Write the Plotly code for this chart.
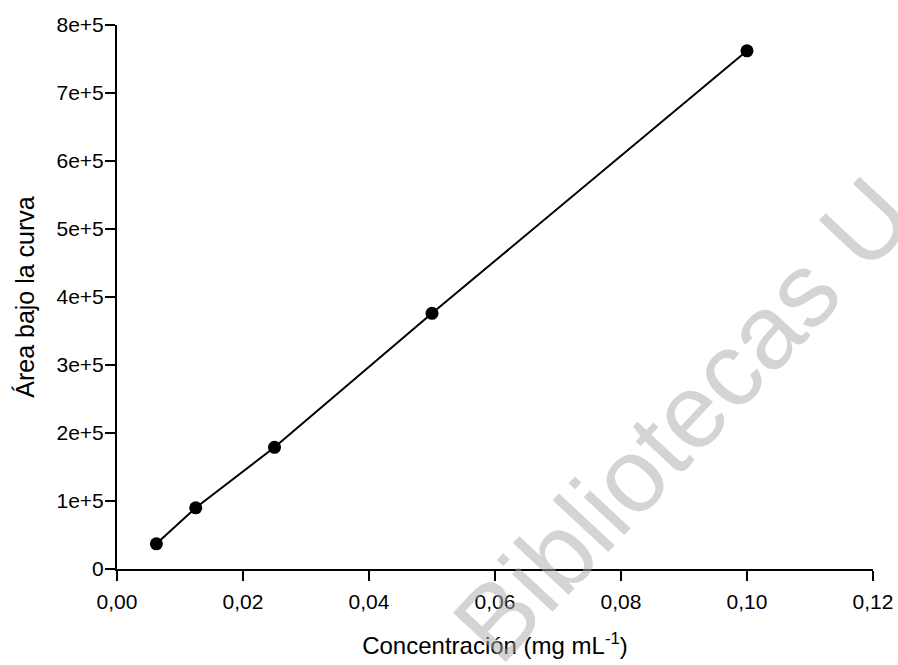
import plotly.graph_objects as go

# Data
conc = [0.00625, 0.0125, 0.025, 0.05, 0.10]
area = [37000, 90000, 179000, 376000, 762000]

x_ticks = [0, 0.02, 0.04, 0.06, 0.08, 0.10, 0.12]
x_ticktext = ["0,00", "0,02", "0,04", "0,06", "0,08", "0,10", "0,12"]
y_ticks = [0, 1e5, 2e5, 3e5, 4e5, 5e5, 6e5, 7e5, 8e5]
y_ticktext = ["0", "1e+5", "2e+5", "3e+5", "4e+5", "5e+5", "6e+5", "7e+5", "8e+5"]

watermark = "Bibliotecas U"

font_family = "Liberation Sans, Arial, sans-serif"

fig = go.Figure()
fig.add_trace(go.Scatter(
    x=conc, y=area, mode="lines+markers",
    line=dict(color="black", width=2),
    marker=dict(color="black", size=13),
    showlegend=False, hoverinfo="x+y",
))

fig.add_annotation(
    text=watermark, x=0.0897, y=2.2e5, xref="x", yref="y",
    showarrow=False, textangle=-47,
    font=dict(family=font_family, size=105, color="rgba(170,170,170,0.5)"),
)

fig.update_layout(
    width=898, height=665,
    margin=dict(l=117, r=25, t=25, b=96, autoexpand=False),
    paper_bgcolor="white", plot_bgcolor="white",
    font=dict(family=font_family, color="black"),
)
fig.update_xaxes(
    range=[0, 0.12], tickvals=x_ticks, ticktext=x_ticktext, automargin=False,
    showline=True, linecolor="black", linewidth=2, mirror=False,
    ticks="outside", ticklen=10, tickwidth=2, tickcolor="black",
    showgrid=False, zeroline=False,
    tickfont=dict(size=21), ticklabelstandoff=3,
    title=dict(text="Concentración (mg mL<sup>-1</sup>)", font=dict(size=24), standoff=25),
)
fig.update_yaxes(
    range=[0, 8e5], tickvals=y_ticks, ticktext=y_ticktext, automargin=False,
    showline=True, linecolor="black", linewidth=2, mirror=False,
    ticks="outside", ticklen=10, tickwidth=2, tickcolor="black",
    showgrid=False, zeroline=False,
    tickfont=dict(size=21), ticklabelstandoff=-3,
    title=dict(text="Área bajo la curva", font=dict(size=25), standoff=15),
)

fig.write_html(
    "out.html",
    config={"displayModeBar": False},
    post_script="document.body.style.margin='0';document.body.style.overflow='hidden';",
)
